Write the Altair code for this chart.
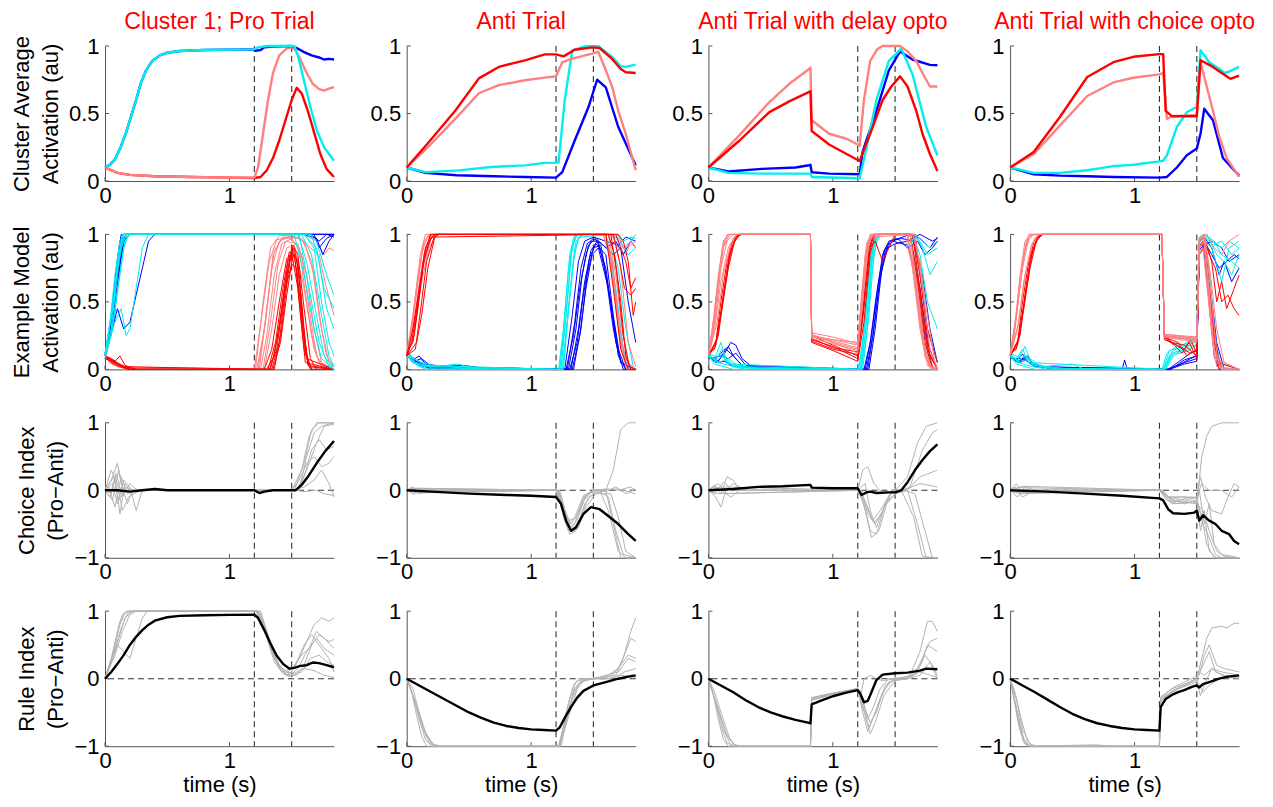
import altair as alt
import pandas as pd

FONT = "Liberation Sans"
T_END = 1.84
EVENTS = [1.2, 1.5]
X_TICKS = [0, 1]
Y_TICKS_ACT = [0, 0.5, 1]
Y_TICKS_IDX = [-1, 0, 1]
COL_TITLES = ["Cluster 1; Pro Trial", "Anti Trial", "Anti Trial with delay opto", "Anti Trial with choice opto"]
ROW_TITLES = [["Cluster Average", "Activation (au)"], ["Example Model", "Activation (au)"],
              ["Choice Index", "(Pro\u2212Anti)"], ["Rule Index", "(Pro\u2212Anti)"]]
COLORS = {"blue": "#0000ff", "cyan": "#00eeee", "red": "#ff0000", "salmon": "#ff8080",
          "gray": "#b3b3b3", "black": "#000000"}

# ---------------- Row 1: cluster average activation ----------------
R1C1_BLUE = [(0,.1),(.04,.12),(.08,.16),(.13,.26),(.17,.36),(.21,.48),(.25,.6),(.29,.73),(.33,.82),(.38,.89),(.44,.93),(.5,.95),(.6,.963),(.8,.97),(1.19,.975),(1.21,.965),(1.25,.97),(1.28,.99),(1.35,.995),(1.5,1.0),(1.54,.985),(1.6,.955),(1.66,.93),(1.72,.915),(1.76,.9),(1.8,.905),(1.84,.9)]
R1C1_CYAN = [(0,.1),(.04,.12),(.08,.16),(.13,.26),(.17,.36),(.21,.48),(.25,.6),(.29,.73),(.33,.82),(.38,.89),(.44,.93),(.5,.95),(.6,.963),(.8,.97),(1.19,.975),(1.23,.99),(1.3,1.0),(1.52,1.0),(1.55,.93),(1.6,.74),(1.65,.55),(1.7,.38),(1.76,.25),(1.84,.15)]
R1C1_SAL = [(0,.1),(.05,.08),(.1,.06),(.2,.045),(.4,.035),(.7,.03),(1.0,.025),(1.2,.025),(1.23,.1),(1.27,.35),(1.31,.6),(1.35,.8),(1.4,.93),(1.46,.98),(1.5,.99),(1.53,.97),(1.57,.9),(1.62,.8),(1.67,.72),(1.72,.68),(1.76,.67),(1.8,.685),(1.84,.695)]
R1C1_RED = [(0,.1),(.05,.08),(.1,.06),(.2,.045),(.4,.035),(.7,.03),(1.0,.025),(1.2,.022),(1.25,.03),(1.3,.08),(1.35,.17),(1.4,.3),(1.45,.45),(1.5,.6),(1.54,.69),(1.58,.65),(1.63,.52),(1.68,.36),(1.73,.2),(1.78,.09),(1.84,.03)]

R1C2_RED = [(0,.1),(.17,.28),(.39,.52),(.58,.76),(.74,.845),(.95,.894),(1.11,.938),(1.2,.938),(1.26,.923),(1.35,.972),(1.49,.99),(1.55,.985),(1.65,.904),(1.72,.83),(1.76,.806),(1.84,.8)]
R1C2_SAL = [(0,.1),(.17,.25),(.39,.46),(.58,.65),(.74,.71),(.95,.746),(1.11,.766),(1.2,.776),(1.25,.88),(1.33,.906),(1.49,.943),(1.54,.956),(1.6,.82),(1.65,.7),(1.7,.52),(1.76,.35),(1.84,.08)]
R1C2_CYAN = [(0,.1),(.15,.066),(.42,.079),(.68,.104),(.95,.116),(1.11,.134),(1.22,.136),(1.27,.6),(1.33,.967),(1.44,.998),(1.54,.998),(1.65,.919),(1.72,.85),(1.76,.845),(1.84,.862)]
R1C2_BLUE = [(0,.1),(.15,.06),(.4,.043),(.7,.035),(.95,.03),(1.2,.025),(1.25,.066),(1.35,.3),(1.46,.546),(1.53,.75),(1.6,.694),(1.7,.4),(1.84,.116)]

R1C3_SAL = [(0,.1),(.25,.34),(.49,.585),(.65,.72),(.81,.83),(.82,.84),(.83,.45),(.97,.35),(1.11,.313),(1.2,.27),(1.215,.26),(1.25,.6),(1.3,.89),(1.36,.98),(1.4,1.0),(1.54,1.0),(1.6,.96),(1.67,.89),(1.72,.8),(1.78,.7),(1.84,.7)]
R1C3_RED = [(0,.1),(.25,.3),(.49,.51),(.65,.59),(.81,.66),(.82,.665),(.83,.37),(.97,.27),(1.11,.2),(1.215,.148),(1.3,.35),(1.4,.6),(1.47,.7),(1.54,.775),(1.6,.7),(1.67,.52),(1.72,.35),(1.78,.2),(1.84,.074)]
R1C3_BLUE = [(0,.1),(.16,.07),(.43,.09),(.7,.1),(.81,.117),(.82,.12),(.83,.065),(.97,.055),(1.215,.05),(1.24,.22),(1.35,.52),(1.45,.82),(1.54,.96),(1.64,.9),(1.78,.86),(1.84,.857)]
R1C3_CYAN = [(0,.1),(.16,.06),(.43,.055),(.82,.055),(.83,.03),(1.215,.02),(1.255,.18),(1.35,.6),(1.45,.89),(1.55,.98),(1.64,.79),(1.75,.4),(1.84,.19)]

R1C4_RED = [(0,.1),(.19,.215),(.4,.474),(.62,.77),(.83,.88),(.99,.92),(1.2,.94),(1.23,.94),(1.25,.52),(1.3,.48),(1.5,.48),(1.53,.894),(1.63,.845),(1.7,.8),(1.77,.757),(1.84,.78)]
R1C4_SAL = [(0,.1),(.19,.2),(.4,.41),(.62,.63),(.83,.73),(.99,.765),(1.2,.79),(1.23,.8),(1.26,.46),(1.3,.48),(1.5,.49),(1.53,.88),(1.58,.7),(1.63,.52),(1.68,.33),(1.74,.17),(1.84,.03)]
R1C4_CYAN = [(0,.1),(.19,.06),(.4,.06),(.62,.08),(.83,.11),(.99,.12),(1.2,.145),(1.23,.15),(1.26,.19),(1.34,.4),(1.42,.51),(1.5,.548),(1.53,.968),(1.6,.88),(1.68,.832),(1.72,.8),(1.76,.81),(1.84,.845)]
R1C4_BLUE = [(0,.1),(.19,.05),(.4,.04),(.62,.035),(.83,.03),(1.2,.025),(1.26,.03),(1.34,.1),(1.42,.19),(1.5,.24),(1.53,.35),(1.56,.535),(1.63,.45),(1.71,.17),(1.84,.04)]

# ---------------- Row 2: example model activation (single trials) ----------------
R2C1_BLUE = [
 [(0,.1),(.04,.3),(.08,.6),(.12,.9),(.15,1),(1.84,1)],
 [(0,.1),(.05,.35),(.1,.7),(.14,.95),(.17,1),(1.6,1),(1.7,.97),(1.75,.85),(1.8,.95),(1.84,1)],
 [(0,.08),(.06,.3),(.1,.45),(.15,.3),(.2,.35),(.25,.55),(.3,.75),(.35,.95),(.4,1),(1.84,1)],
 [(0,.1),(.06,.45),(.1,.8),(.13,1),(1.65,1),(1.72,.95),(1.78,1),(1.84,.98)],
 [(0,.12),(.05,.3),(.09,.55),(.13,.85),(.17,1),(1.84,1)],
 [(0,.1),(.05,.4),(.09,.75),(.12,.95),(.15,1),(1.68,1),(1.72,.9),(1.78,.97),(1.84,1)],
 [(0,.1),(.07,.35),(.11,.7),(.15,.95),(.2,1),(1.84,1)]]
R2C1_CYAN = [
 [(0,.1),(.05,.4),(.1,.75),(.14,.95),(.18,1),(1.55,1),(1.62,.8),(1.7,.4),(1.76,.1),(1.84,0)],
 [(0,.08),(.06,.3),(.12,.7),(.16,.95),(.2,1),(1.58,1),(1.66,.85),(1.74,.4),(1.8,.1),(1.84,.02)],
 [(0,.1),(.08,.35),(.13,.45),(.17,.25),(.2,.3),(.25,.6),(.3,.9),(.35,1),(1.6,1),(1.7,.9),(1.76,.6),(1.84,.45)],
 [(0,.12),(.04,.35),(.08,.7),(.12,.95),(.15,1),(1.52,1),(1.6,.7),(1.68,.3),(1.74,.08),(1.84,0)],
 [(0,.1),(.05,.25),(.1,.6),(.15,.9),(.19,1),(1.62,1),(1.7,.95),(1.78,.7),(1.84,.55)],
 [(0,.1),(.07,.5),(.11,.85),(.15,1),(1.56,1),(1.64,.6),(1.72,.2),(1.8,.02),(1.84,0)],
 [(0,.1),(.06,.45),(.1,.8),(.14,1),(1.6,1),(1.68,.9),(1.74,.5),(1.8,.2),(1.84,.1)],
 [(0,.11),(.05,.3),(.09,.65),(.13,.9),(.17,1),(1.66,1),(1.72,.8),(1.78,.45),(1.84,.3)]]
R2C1_SAL = [
 [(0,.1),(.05,.04),(.1,.02),(.2,0),(1.22,0),(1.28,.3),(1.34,.75),(1.4,.95),(1.48,.98),(1.56,.9),(1.62,.5),(1.68,.15),(1.74,.02),(1.84,0)],
 [(0,.08),(.06,.06),(.12,.02),(.3,0),(1.25,0),(1.3,.25),(1.36,.7),(1.42,.93),(1.5,.97),(1.58,.85),(1.64,.45),(1.7,.1),(1.78,0),(1.84,0)],
 [(0,.1),(.08,.05),(.15,.01),(1.2,0),(1.26,.4),(1.32,.8),(1.38,.96),(1.5,.99),(1.6,.95),(1.68,.7),(1.74,.3),(1.8,.05),(1.84,.02)],
 [(0,.1),(.1,.03),(.2,0),(1.28,0),(1.34,.3),(1.4,.7),(1.46,.9),(1.52,.92),(1.6,.6),(1.66,.25),(1.72,.05),(1.84,0)],
 [(0,.1),(.06,.08),(.12,.03),(.25,0),(1.23,0),(1.29,.35),(1.35,.85),(1.42,.97),(1.55,.98),(1.65,.9),(1.72,.85),(1.78,.6),(1.84,.4)],
 [(0,.1),(.07,.05),(.14,.01),(1.24,0),(1.3,.45),(1.36,.88),(1.43,.98),(1.58,.97),(1.66,.8),(1.72,.4),(1.78,.1),(1.84,.02)],
 [(0,.09),(.05,.07),(.1,.03),(.2,0),(1.27,0),(1.33,.35),(1.39,.78),(1.45,.95),(1.55,.93),(1.62,.7),(1.68,.3),(1.74,.05),(1.84,0)],
 [(0,.1),(.04,.06),(.1,.02),(1.21,0),(1.27,.5),(1.33,.9),(1.4,.99),(1.6,1),(1.7,.95),(1.76,.85),(1.8,.9),(1.84,.88)]]
R2C1_RED = [
 [(0,.1),(.05,.05),(.12,.02),(.2,0),(1.3,0),(1.36,.1),(1.42,.45),(1.47,.8),(1.5,.88),(1.53,.8),(1.57,.4),(1.61,.05),(1.84,0)],
 [(0,.1),(.1,.04),(.2,0),(1.32,0),(1.38,.15),(1.44,.55),(1.49,.85),(1.52,.9),(1.56,.7),(1.6,.25),(1.64,.02),(1.84,0)],
 [(0,.08),(.08,.05),(.18,0),(1.34,0),(1.4,.2),(1.45,.6),(1.5,.78),(1.54,.75),(1.58,.4),(1.62,.08),(1.84,0)],
 [(0,.1),(.12,.03),(.25,0),(1.28,0),(1.34,.15),(1.4,.5),(1.46,.82),(1.5,.86),(1.55,.6),(1.6,.15),(1.66,0),(1.84,0)],
 [(0,.1),(.1,.05),(.2,0),(1.36,0),(1.42,.3),(1.47,.7),(1.51,.92),(1.55,.85),(1.6,.45),(1.65,.08),(1.7,0),(1.84,0)],
 [(0,.1),(.08,.06),(.12,.1),(.16,.03),(.25,0),(1.33,0),(1.39,.25),(1.45,.65),(1.5,.9),(1.54,.82),(1.58,.5),(1.62,.1),(1.66,0),(1.84,0)],
 [(0,.1),(.06,.07),(.13,.02),(1.35,0),(1.41,.2),(1.46,.55),(1.51,.85),(1.55,.8),(1.59,.35),(1.63,.03),(1.84,0)],
 [(0,.08),(.1,.04),(.2,0),(1.31,0),(1.37,.2),(1.43,.6),(1.48,.87),(1.52,.85),(1.57,.5),(1.61,.12),(1.65,0),(1.84,0)]]

R2C2_SAL = [
 [(0,.1),(.04,.3),(.08,.6),(.12,.85),(.16,.97),(.2,1),(1.6,1),(1.65,.8),(1.7,.4),(1.75,.1),(1.8,0),(1.84,0)],
 [(0,.12),(.05,.4),(.1,.75),(.14,.95),(.18,1),(1.62,1),(1.68,.7),(1.73,.3),(1.78,.05),(1.84,0)],
 [(0,.1),(.06,.35),(.11,.7),(.16,.92),(.22,1),(1.64,1),(1.7,.9),(1.76,.85),(1.8,.95),(1.84,.9)],
 [(0,.1),(.03,.25),(.07,.55),(.11,.85),(.15,1),(1.58,1),(1.63,.85),(1.68,.5),(1.72,.15),(1.77,0),(1.84,0)],
 [(0,.1),(.06,.3),(.12,.65),(.18,.9),(.24,1),(1.66,1),(1.72,.75),(1.78,.2),(1.84,.02)],
 [(0,.11),(.05,.35),(.09,.65),(.13,.9),(.18,1),(1.6,1),(1.66,.75),(1.71,.25),(1.76,.02),(1.84,0)],
 [(0,.1),(.07,.4),(.13,.8),(.19,.97),(.25,1),(1.7,1),(1.74,.9),(1.8,.92),(1.84,.95)]]
R2C2_RED = [
 [(0,.12),(.05,.2),(.09,.45),(.13,.75),(.18,.95),(.22,1),(1.62,1),(1.67,.85),(1.72,.5),(1.76,.1),(1.8,0),(1.84,0)],
 [(0,.1),(.07,.15),(.12,.5),(.16,.8),(.22,.98),(.26,1),(1.68,1),(1.72,.9),(1.76,.8),(1.8,.6),(1.84,.68)],
 [(0,.1),(.05,.3),(.1,.6),(.15,.9),(.2,1),(1.6,1),(1.66,.6),(1.72,.15),(1.78,0),(1.84,0)],
 [(0,.1),(.08,.2),(.12,.4),(.17,.75),(.23,1),(1.7,1),(1.74,.95),(1.78,.8),(1.82,.4),(1.84,.5)],
 [(0,.1),(.06,.25),(.1,.55),(.14,.85),(.19,1),(1.64,1),(1.69,.7),(1.74,.25),(1.79,.02),(1.84,0)],
 [(0,.1),(.04,.2),(.09,.5),(.14,.82),(.2,.98),(1.66,1),(1.71,.8),(1.75,.6),(1.8,.55),(1.84,.6)]]
R2C2_CYAN = [
 [(0,.12),(.03,.08),(.08,.04),(.15,.02),(.3,.03),(.5,0),(1.22,0),(1.26,.3),(1.3,.75),(1.34,.97),(1.38,1),(1.58,1),(1.64,.8),(1.7,.35),(1.76,.05),(1.84,0)],
 [(0,.1),(.04,.06),(.1,.02),(.2,0),(1.23,0),(1.28,.4),(1.32,.85),(1.36,1),(1.64,1),(1.7,.97),(1.75,.9),(1.8,.95),(1.84,1)],
 [(0,.15),(.05,.08),(.12,.05),(.25,.02),(.4,.04),(.6,0),(1.24,0),(1.29,.5),(1.33,.9),(1.37,1),(1.6,1),(1.68,.6),(1.74,.15),(1.8,0),(1.84,0)],
 [(0,.1),(.06,.05),(.15,0),(1.25,0),(1.3,.45),(1.35,.9),(1.4,1),(1.66,1),(1.72,.92),(1.78,.85),(1.84,.9)],
 [(0,.1),(.08,.07),(.2,.01),(1.26,0),(1.31,.55),(1.36,.95),(1.42,1),(1.62,1),(1.7,.75),(1.76,.3),(1.82,.02),(1.84,0)],
 [(0,.1),(.05,.06),(.12,.03),(1.23,0),(1.27,.4),(1.31,.85),(1.35,1),(1.6,1),(1.66,.7),(1.72,.2),(1.78,0),(1.84,0)],
 [(0,.13),(.07,.05),(.2,.02),(1.25,0),(1.29,.35),(1.34,.8),(1.38,.98),(1.68,1),(1.74,.95),(1.8,.98),(1.84,.97)]]
R2C2_BLUE = [
 [(0,.1),(.05,.07),(.1,.1),(.15,.04),(.3,.02),(1.28,0),(1.34,.25),(1.39,.6),(1.44,.85),(1.48,.95),(1.54,.95),(1.6,.7),(1.66,.3),(1.72,.05),(1.84,0)],
 [(0,.1),(.08,.05),(.2,0),(1.3,0),(1.36,.3),(1.41,.7),(1.46,.92),(1.52,.97),(1.6,.9),(1.68,.95),(1.74,.85),(1.8,.95),(1.84,.9)],
 [(0,.12),(.06,.08),(.1,.05),(.25,.02),(.45,.03),(.7,0),(1.32,0),(1.38,.3),(1.43,.65),(1.48,.88),(1.53,.95),(1.6,.75),(1.68,.2),(1.74,0),(1.84,0)],
 [(0,.1),(.1,.03),(.3,0),(1.29,0),(1.35,.35),(1.4,.75),(1.45,.93),(1.5,.97),(1.58,.92),(1.66,.85),(1.72,.9),(1.78,.5),(1.84,.2)],
 [(0,.1),(.07,.06),(.2,.01),(1.33,0),(1.39,.25),(1.44,.6),(1.49,.85),(1.54,.9),(1.62,.6),(1.7,.15),(1.76,0),(1.84,0)],
 [(0,.1),(.06,.06),(.12,.08),(.2,.02),(1.31,0),(1.37,.2),(1.42,.55),(1.47,.83),(1.52,.93),(1.6,.85),(1.66,.4),(1.72,.05),(1.84,0)],
 [(0,.11),(.05,.05),(.15,.02),(1.34,0),(1.4,.3),(1.45,.7),(1.5,.9),(1.56,.92),(1.64,.5),(1.7,.1),(1.76,0),(1.84,0)],
 [(0,.1),(.08,.04),(.3,.01),(1.27,0),(1.33,.4),(1.38,.8),(1.43,.95),(1.5,.98),(1.6,.95),(1.7,.92),(1.76,.98),(1.84,.95)]]

R2C3_SAL = [
 [(0,.1),(.04,.35),(.08,.7),(.12,.95),(.16,1),(.82,1),(.83,.25),(1.0,.22),(1.2,.18),(1.23,.5),(1.27,.9),(1.3,1),(1.6,1),(1.66,.7),(1.72,.25),(1.78,.02),(1.84,0)],
 [(0,.1),(.06,.4),(.1,.75),(.15,.95),(.2,1),(.82,1),(.83,.25),(1.0,.2),(1.2,.15),(1.24,.55),(1.28,.92),(1.32,1),(1.62,1),(1.68,.6),(1.74,.15),(1.8,0),(1.84,0)],
 [(0,.12),(.05,.3),(.1,.65),(.16,.9),(.22,1),(.82,1),(.83,.24),(1.0,.22),(1.2,.2),(1.22,.4),(1.26,.85),(1.3,.98),(1.64,1),(1.7,.8),(1.76,.4),(1.82,.05),(1.84,.02)],
 [(0,.1),(.03,.3),(.07,.6),(.11,.88),(.15,1),(.82,1),(.83,.26),(1.0,.2),(1.2,.12),(1.25,.6),(1.29,.95),(1.33,1),(1.58,1),(1.64,.75),(1.7,.3),(1.76,.03),(1.84,0)],
 [(0,.1),(.05,.4),(.09,.75),(.13,.96),(.18,1),(.82,1),(.83,.27),(1.0,.24),(1.2,.19),(1.23,.55),(1.27,.93),(1.31,1),(1.62,1),(1.68,.55),(1.74,.1),(1.8,0),(1.84,0)],
 [(0,.1),(.07,.35),(.12,.7),(.18,.93),(.23,1),(.82,1),(.83,.25),(1.0,.21),(1.2,.16),(1.24,.5),(1.28,.9),(1.32,1),(1.66,1),(1.72,.6),(1.78,.15),(1.84,0)],
 [(0,.11),(.04,.3),(.08,.62),(.12,.9),(.17,1),(.82,1),(.83,.23),(1.0,.19),(1.2,.14),(1.25,.6),(1.29,.95),(1.33,1),(1.6,1),(1.66,.65),(1.72,.2),(1.78,0),(1.84,0)]]
R2C3_RED = [
 [(0,.1),(.06,.2),(.1,.5),(.15,.8),(.2,.97),(.25,1),(.82,1),(.83,.25),(1.0,.18),(1.2,.1),(1.24,.4),(1.29,.85),(1.33,1),(1.62,1),(1.68,.65),(1.74,.2),(1.8,0),(1.84,0)],
 [(0,.1),(.08,.25),(.13,.6),(.18,.88),(.24,1),(.82,1),(.83,.22),(1.0,.17),(1.2,.08),(1.25,.45),(1.3,.9),(1.34,.95),(1.4,.8),(1.45,.9),(1.5,1),(1.64,1),(1.7,.7),(1.76,.3),(1.84,.05)],
 [(0,.12),(.05,.15),(.11,.45),(.16,.75),(.21,.95),(.26,1),(.82,1),(.83,.23),(1.0,.16),(1.2,.13),(1.23,.35),(1.28,.8),(1.32,1),(1.66,1),(1.72,.55),(1.78,.1),(1.84,0)],
 [(0,.1),(.07,.22),(.12,.55),(.17,.85),(.22,.98),(.27,1),(.82,1),(.83,.2),(1.0,.14),(1.2,.06),(1.25,.35),(1.3,.85),(1.34,1),(1.64,1),(1.7,.6),(1.76,.15),(1.84,0)],
 [(0,.1),(.06,.18),(.11,.48),(.16,.8),(.21,.96),(.25,1),(.82,1),(.83,.21),(1.0,.15),(1.2,.11),(1.24,.45),(1.29,.9),(1.33,1),(1.62,1),(1.68,.7),(1.74,.25),(1.8,.02),(1.84,0)]]
R2C3_CYAN = [
 [(0,.1),(.05,.08),(.1,.2),(.15,.05),(.3,.02),(.5,0),(1.2,0),(1.24,.2),(1.28,.6),(1.32,.9),(1.36,1),(1.62,1),(1.7,.8),(1.76,.3),(1.84,.05)],
 [(0,.12),(.06,.06),(.12,.1),(.2,.03),(.4,0),(1.22,0),(1.26,.35),(1.3,.8),(1.34,.98),(1.38,1),(1.66,1),(1.72,.9),(1.78,.7),(1.84,.8)],
 [(0,.1),(.08,.05),(.16,.08),(.25,.02),(1.23,0),(1.27,.25),(1.31,.7),(1.35,.95),(1.4,1),(1.6,1),(1.68,.5),(1.74,.1),(1.8,0),(1.84,0)],
 [(0,.1),(.05,.04),(.2,0),(1.24,0),(1.29,.4),(1.33,.85),(1.37,1),(1.64,1),(1.7,.95),(1.76,.85),(1.84,.9)],
 [(0,.11),(.06,.07),(.1,.12),(.14,.06),(.25,.01),(1.21,0),(1.25,.3),(1.29,.75),(1.33,.95),(1.37,1),(1.64,1),(1.7,.85),(1.76,.5),(1.84,.3)],
 [(0,.1),(.04,.06),(.12,.04),(.3,0),(1.22,0),(1.26,.25),(1.3,.7),(1.34,.96),(1.38,1),(1.62,1),(1.68,.7),(1.74,.2),(1.8,0),(1.84,0)],
 [(0,.12),(.07,.09),(.11,.15),(.16,.04),(1.23,0),(1.28,.45),(1.32,.88),(1.36,1),(1.66,1),(1.72,.95),(1.78,.9),(1.84,.95)]]
R2C3_BLUE = [
 [(0,.1),(.06,.05),(.12,.1),(.18,.2),(.22,.18),(.27,.08),(.35,.02),(.5,0),(1.25,0),(1.3,.2),(1.35,.55),(1.4,.85),(1.45,.95),(1.52,.97),(1.6,.9),(1.68,.95),(1.74,.85),(1.8,.9),(1.84,.95)],
 [(0,.1),(.08,.06),(.14,.15),(.2,.1),(.28,.02),(1.27,0),(1.32,.25),(1.37,.6),(1.42,.88),(1.48,.95),(1.6,.92),(1.7,.6),(1.76,.2),(1.84,0)],
 [(0,.08),(.1,.1),(.16,.08),(.22,.12),(.3,.03),(1.28,0),(1.33,.3),(1.38,.7),(1.44,.92),(1.5,.96),(1.62,1),(1.7,.97),(1.78,.9),(1.84,.98)],
 [(0,.1),(.05,.07),(.1,.12),(.16,.17),(.2,.1),(.28,.02),(1.26,0),(1.31,.25),(1.36,.6),(1.41,.88),(1.46,.95),(1.55,.97),(1.65,.95),(1.72,.7),(1.78,.3),(1.84,.05)],
 [(0,.1),(.07,.05),(.13,.06),(.2,.02),(1.29,0),(1.34,.3),(1.39,.72),(1.44,.9),(1.5,.93),(1.6,.95),(1.7,1),(1.8,.95),(1.84,.97)]]

R2C4_SAL = [
 [(0,.1),(.04,.35),(.08,.7),(.12,.95),(.16,1),(1.22,1),(1.24,.25),(1.5,.23),(1.52,.95),(1.55,1),(1.58,.7),(1.62,.25),(1.66,.02),(1.84,0)],
 [(0,.12),(.05,.4),(.1,.75),(.15,.97),(.2,1),(1.22,1),(1.24,.26),(1.5,.24),(1.52,.9),(1.56,.95),(1.6,.6),(1.64,.15),(1.7,0),(1.84,0)],
 [(0,.1),(.06,.3),(.11,.65),(.17,.92),(.22,1),(1.22,1),(1.24,.25),(1.5,.22),(1.52,.95),(1.58,1),(1.64,.9),(1.7,.85),(1.76,.95),(1.84,1)],
 [(0,.1),(.03,.25),(.07,.55),(.11,.85),(.15,1),(1.22,1),(1.24,.24),(1.5,.2),(1.52,.85),(1.55,.9),(1.6,.45),(1.65,.08),(1.84,0)],
 [(0,.1),(.05,.38),(.09,.72),(.13,.95),(.18,1),(1.22,1),(1.24,.26),(1.5,.23),(1.52,.97),(1.56,.98),(1.6,.55),(1.64,.1),(1.7,0),(1.84,0)],
 [(0,.11),(.07,.35),(.12,.7),(.18,.93),(.23,1),(1.22,1),(1.24,.25),(1.5,.21),(1.52,.92),(1.57,.96),(1.62,.5),(1.66,.12),(1.72,0),(1.84,0)],
 [(0,.1),(.04,.3),(.08,.62),(.12,.9),(.17,1),(1.22,1),(1.24,.24),(1.5,.22),(1.52,.96),(1.56,1),(1.61,.7),(1.66,.3),(1.72,.05),(1.84,0)]]
R2C4_RED = [
 [(0,.1),(.06,.2),(.1,.5),(.15,.8),(.2,.97),(.25,1),(1.22,1),(1.24,.25),(1.3,.2),(1.4,.18),(1.5,.1),(1.52,.9),(1.56,.95),(1.6,.6),(1.64,.2),(1.68,0),(1.84,0)],
 [(0,.1),(.08,.25),(.13,.6),(.18,.88),(.24,1),(1.22,1),(1.24,.22),(1.3,.2),(1.4,.15),(1.45,.22),(1.5,.12),(1.52,.95),(1.56,.98),(1.62,.8),(1.66,.5),(1.7,.65),(1.74,.45),(1.8,.6),(1.84,.7)],
 [(0,.12),(.05,.15),(.11,.45),(.16,.75),(.21,.95),(.26,1),(1.22,1),(1.24,.24),(1.35,.2),(1.42,.1),(1.5,.15),(1.52,.9),(1.57,.95),(1.62,.4),(1.67,.05),(1.84,0)],
 [(0,.1),(.07,.22),(.12,.55),(.17,.85),(.22,.98),(.27,1),(1.22,1),(1.24,.23),(1.32,.18),(1.38,.12),(1.44,.2),(1.5,.08),(1.52,.85),(1.56,.9),(1.61,.55),(1.66,.15),(1.7,0),(1.84,0)],
 [(0,.1),(.06,.18),(.11,.48),(.16,.8),(.21,.96),(.25,1),(1.22,1),(1.24,.24),(1.35,.17),(1.45,.12),(1.5,.14),(1.52,.92),(1.56,.96),(1.6,.85),(1.65,.75),(1.7,.5),(1.75,.55),(1.8,.45),(1.84,.4)]]
R2C4_CYAN = [
 [(0,.1),(.05,.08),(.1,.15),(.15,.05),(.3,.02),(.5,0),(1.22,0),(1.26,.12),(1.35,.18),(1.5,.2),(1.52,.95),(1.56,1),(1.62,.95),(1.7,.9),(1.76,.95),(1.84,.9)],
 [(0,.12),(.06,.06),(.12,.1),(.2,.03),(.4,0),(1.23,0),(1.28,.14),(1.4,.17),(1.5,.18),(1.52,.9),(1.56,.97),(1.6,.7),(1.65,.2),(1.7,0),(1.84,0)],
 [(0,.1),(.08,.05),(.16,.08),(.25,.02),(.5,.04),(.6,0),(1.24,0),(1.3,.1),(1.4,.15),(1.5,.22),(1.52,.97),(1.58,1),(1.66,.85),(1.72,.8),(1.78,.7),(1.84,.85)],
 [(0,.1),(.05,.04),(.2,0),(1.24,0),(1.3,.12),(1.5,.17),(1.52,.92),(1.56,.95),(1.62,.9),(1.7,.65),(1.76,.9),(1.84,.95)],
 [(0,.11),(.06,.07),(.1,.12),(.16,.04),(.3,.01),(1.23,0),(1.28,.1),(1.38,.16),(1.5,.24),(1.52,.98),(1.56,1),(1.64,.95),(1.7,.85),(1.78,.8),(1.84,.75)],
 [(0,.1),(.04,.06),(.14,.03),(.3,0),(1.24,0),(1.3,.13),(1.42,.2),(1.5,.25),(1.52,.9),(1.56,.95),(1.6,.75),(1.64,.3),(1.68,.05),(1.84,0)],
 [(0,.12),(.07,.09),(.12,.17),(.17,.05),(1.25,0),(1.32,.11),(1.44,.14),(1.5,.19),(1.52,.94),(1.57,.98),(1.63,.92),(1.7,.95),(1.78,.85),(1.84,.9)]]
R2C4_BLUE = [
 [(0,.1),(.06,.05),(.12,.1),(.2,.03),(.35,.01),(.9,0),(.92,.07),(.94,0),(1.26,0),(1.35,.03),(1.45,.08),(1.5,.1),(1.52,.95),(1.56,.98),(1.62,.9),(1.68,.7),(1.72,.8),(1.78,.65),(1.84,.75)],
 [(0,.1),(.08,.06),(.14,.1),(.2,.02),(1.27,0),(1.4,.05),(1.5,.08),(1.52,.9),(1.55,.95),(1.6,.5),(1.64,.1),(1.68,0),(1.84,0)],
 [(0,.08),(.1,.08),(.16,.05),(.3,.01),(1.28,0),(1.4,.04),(1.5,.06),(1.52,.85),(1.56,.92),(1.62,.95),(1.7,.9),(1.76,.8),(1.84,.85)],
 [(0,.1),(.05,.07),(.1,.11),(.16,.04),(.3,.01),(1.27,0),(1.36,.06),(1.45,.12),(1.5,.14),(1.52,.9),(1.56,.95),(1.62,.85),(1.68,.75),(1.74,.8),(1.8,.85),(1.84,.82)],
 [(0,.1),(.07,.05),(.13,.07),(.2,.02),(1.29,0),(1.4,.07),(1.5,.1),(1.52,.88),(1.56,.93),(1.61,.6),(1.66,.2),(1.72,0),(1.84,0)]]

# ---------------- Row 3: choice index ----------------
R3C1_MEAN = [(0,0),(.1,0),(.2,-.02),(.3,0),(.4,.02),(.5,0),(.8,0),(1.2,0),(1.24,-.04),(1.28,-.02),(1.35,0),(1.5,0),(1.53,0),(1.58,.08),(1.63,.2),(1.7,.4),(1.77,.58),(1.84,.73)]
R3C1_GRAY = [
 [(0,0),(.05,.15),(.1,.4),(.13,.1),(.18,-.2),(.22,0),(.3,0),(1.5,0),(1.58,.3),(1.64,.8),(1.7,1),(1.84,1)],
 [(0,0),(.04,-.1),(.08,.2),(.12,-.35),(.16,.1),(.2,0),(1.52,0),(1.6,.4),(1.66,.9),(1.72,1),(1.84,1)],
 [(0,0),(.06,.1),(.1,-.2),(.15,.15),(.2,.05),(.25,-.3),(.3,0),(1.54,0),(1.62,.3),(1.7,.7),(1.76,.95),(1.84,.98)],
 [(0,0),(.05,-.05),(.09,.25),(.14,-.1),(.2,.1),(.26,0),(1.5,0),(1.56,.15),(1.62,.4),(1.68,.5),(1.74,.35),(1.8,.4),(1.84,.5)],
 [(0,0),(.07,.2),(.11,-.15),(.17,.05),(.22,0),(1.55,0),(1.6,.2),(1.66,.6),(1.72,.75),(1.78,.6),(1.84,.65)],
 [(0,0),(.03,.05),(.08,-.25),(.13,.2),(.18,-.05),(.24,0),(1.5,0),(1.6,.05),(1.68,.15),(1.74,.3),(1.8,.1),(1.84,-.1)],
 [(0,0),(.06,-.15),(.11,.3),(.15,0),(.3,0),(1.53,0),(1.6,-.02),(1.7,0),(1.76,-.05),(1.84,-.08)],
 [(0,0),(.05,.3),(.1,.1),(.14,-.3),(.19,-.1),(.28,0),(1.56,0),(1.62,.5),(1.68,.85),(1.74,.95),(1.84,1)]]

R3C2_MEAN = [(0,0),(.2,-.02),(.5,-.05),(.8,-.07),(1.0,-.08),(1.2,-.1),(1.24,-.2),(1.28,-.45),(1.32,-.6),(1.36,-.55),(1.42,-.35),(1.48,-.25),(1.55,-.28),(1.62,-.38),(1.7,-.5),(1.78,-.65),(1.84,-.75)]
R3C2_GRAY = [
 [(0,0),(.05,.05),(.1,-.05),(.2,0),(1.2,0),(1.25,-.3),(1.3,-.6),(1.35,-.5),(1.42,-.1),(1.5,0),(1.6,0),(1.66,.3),(1.72,.9),(1.78,1),(1.84,1)],
 [(0,0),(.06,-.06),(.12,.03),(.2,0),(1.21,0),(1.26,-.4),(1.31,-.65),(1.36,-.6),(1.43,-.2),(1.5,-.05),(1.6,0),(1.66,-.5),(1.72,-1),(1.84,-1)],
 [(0,0),(.04,.04),(.1,-.03),(1.22,0),(1.27,-.3),(1.32,-.5),(1.38,-.35),(1.45,-.05),(1.55,0),(1.62,-.3),(1.7,-.9),(1.76,-1),(1.84,-1)],
 [(0,0),(.08,-.04),(1.2,0),(1.25,-.2),(1.3,-.45),(1.36,-.4),(1.42,-.15),(1.5,0),(1.6,.02),(1.7,0),(1.8,.05),(1.84,0)],
 [(0,0),(.05,.02),(1.23,0),(1.28,-.35),(1.33,-.62),(1.38,-.55),(1.44,-.25),(1.52,-.05),(1.64,-.05),(1.7,-.4),(1.76,-.9),(1.84,-1)],
 [(0,0),(.1,.03),(1.21,0),(1.26,-.25),(1.31,-.55),(1.37,-.45),(1.43,-.1),(1.5,0),(1.6,-.02),(1.68,.05),(1.76,-.05),(1.84,.02)],
 [(0,0),(1.22,0),(1.27,-.3),(1.32,-.58),(1.38,-.5),(1.46,-.1),(1.55,-.02),(1.62,-.1),(1.68,-.6),(1.74,-.95),(1.84,-1)],
 [(0,0),(.06,.03),(1.2,0),(1.26,-.35),(1.3,-.5),(1.35,-.4),(1.42,-.08),(1.5,0),(1.7,.02),(1.84,-.05)]]

R3C3_MEAN = [(0,0),(.2,.02),(.4,.05),(.6,.06),(.82,.08),(.83,.04),(1.0,.03),(1.2,.03),(1.23,-.07),(1.27,-.03),(1.3,-.02),(1.35,-.04),(1.45,-.03),(1.5,-.03),(1.55,0),(1.6,.12),(1.66,.3),(1.72,.45),(1.78,.58),(1.84,.68)]
R3C3_GRAY = [
 [(0,0),(.05,.08),(.1,-.05),(.15,.2),(.2,.15),(.25,0),(1.2,0),(1.25,-.2),(1.3,-.6),(1.35,-.65),(1.42,-.2),(1.5,-.05),(1.6,0),(1.68,-.5),(1.75,-1),(1.84,-1)],
 [(0,0),(.06,-.1),(.1,-.25),(.14,0),(.2,.1),(.3,0),(1.2,0),(1.24,.3),(1.28,.35),(1.33,.1),(1.4,-.05),(1.5,0),(1.6,.2),(1.68,.7),(1.75,.95),(1.84,1)],
 [(0,0),(.04,.05),(.1,0),(.18,-.1),(.25,0),(1.21,0),(1.26,-.3),(1.31,-.7),(1.37,-.6),(1.44,-.15),(1.55,0),(1.65,-.4),(1.72,-.98),(1.84,-1)],
 [(0,0),(.08,.1),(.15,-.05),(1.22,0),(1.27,-.2),(1.32,-.45),(1.38,-.3),(1.46,-.05),(1.6,0),(1.7,.2),(1.84,.3)],
 [(0,0),(.05,-.05),(.12,.12),(.2,0),(1.2,0),(1.26,.1),(1.3,-.3),(1.35,-.55),(1.41,-.25),(1.5,-.05),(1.62,.05),(1.72,.6),(1.8,.85),(1.84,.9)],
 [(0,0),(.1,.05),(1.23,0),(1.28,-.35),(1.34,-.5),(1.4,-.3),(1.48,0),(1.6,.02),(1.7,.1),(1.84,.05)],
 [(0,0),(.07,-.05),(1.21,0),(1.27,-.25),(1.33,-.48),(1.39,-.35),(1.47,-.02),(1.58,0),(1.66,-.05),(1.74,-.6),(1.8,-1),(1.84,-1)]]

R3C4_MEAN = [(0,0),(.3,-.02),(.6,-.05),(.9,-.08),(1.2,-.12),(1.23,-.15),(1.27,-.28),(1.31,-.34),(1.4,-.35),(1.48,-.33),(1.5,-.3),(1.52,-.45),(1.55,-.37),(1.6,-.45),(1.65,-.5),(1.7,-.6),(1.76,-.65),(1.8,-.75),(1.84,-.8)]
R3C4_GRAY = [
 [(0,0),(.05,.1),(.1,-.05),(.2,0),(1.2,0),(1.26,-.15),(1.35,-.2),(1.45,-.15),(1.5,-.2),(1.54,.5),(1.58,.8),(1.62,.95),(1.7,1),(1.84,1)],
 [(0,0),(.06,-.1),(.12,.05),(.2,0),(1.22,0),(1.27,-.1),(1.4,-.15),(1.5,-.1),(1.54,.1),(1.6,0),(1.7,0),(1.78,-.1),(1.84,.05)],
 [(0,0),(.04,.05),(.1,-.1),(.2,0),(1.2,0),(1.3,-.2),(1.45,-.18),(1.5,-.15),(1.53,-.6),(1.56,-.3),(1.6,-.9),(1.66,-1),(1.84,-1)],
 [(0,0),(.08,-.05),(1.21,0),(1.28,-.12),(1.4,-.2),(1.5,-.15),(1.55,-.5),(1.6,-.7),(1.65,-.95),(1.7,-1),(1.84,-1)],
 [(0,0),(.1,.06),(1.23,0),(1.3,-.18),(1.45,-.1),(1.5,-.2),(1.52,0),(1.56,-.5),(1.6,-.2),(1.64,-.8),(1.7,-.95),(1.84,-1)],
 [(0,0),(.05,-.03),(1.2,0),(1.26,-.1),(1.4,-.1),(1.5,-.12),(1.54,-.4),(1.58,-.8),(1.64,-1),(1.84,-1)],
 [(0,0),(.07,.04),(1.22,0),(1.3,-.15),(1.5,-.2),(1.55,-.3),(1.6,-.6),(1.66,-.9),(1.72,-.98),(1.84,-1)],
 [(0,0),(1.2,0),(1.28,-.1),(1.5,-.1),(1.53,.2),(1.57,-.1),(1.62,-.3),(1.7,-.35),(1.75,-.1),(1.8,.1),(1.84,.05)]]

# ---------------- Row 4: rule index ----------------
R4C1_MEAN = [(0,0),(.05,.1),(.1,.22),(.15,.35),(.2,.5),(.25,.62),(.3,.72),(.35,.8),(.4,.86),(.5,.91),(.6,.93),(.8,.94),(1.0,.945),(1.2,.95),(1.23,.9),(1.28,.72),(1.33,.52),(1.38,.34),(1.43,.22),(1.48,.15),(1.52,.16),(1.57,.19),(1.62,.2),(1.67,.24),(1.72,.23),(1.78,.2),(1.84,.17)]
R4C1_GRAY = [
 [(0,0),(.05,.3),(.1,.7),(.14,.95),(.18,1),(1.22,1),(1.28,.75),(1.34,.4),(1.4,.15),(1.45,.05),(1.5,.1),(1.56,.3),(1.62,.55),(1.68,.8),(1.74,.9),(1.8,.85),(1.84,.9)],
 [(0,0),(.06,.35),(.12,.8),(.16,.98),(.2,1),(1.23,1),(1.29,.7),(1.35,.35),(1.42,.1),(1.48,.03),(1.55,.15),(1.62,.4),(1.7,.6),(1.76,.45),(1.84,.35)],
 [(0,0),(.04,.2),(.1,.5),(.15,.4),(.2,.3),(.25,.6),(.3,.9),(.34,1),(1.21,1),(1.27,.8),(1.33,.5),(1.4,.2),(1.46,.05),(1.54,.05),(1.6,.2),(1.66,.5),(1.72,.65),(1.8,.55),(1.84,.58)],
 [(0,0),(.07,.4),(.12,.85),(.17,1),(1.24,1),(1.3,.7),(1.36,.3),(1.43,.08),(1.5,.05),(1.58,.1),(1.65,.3),(1.72,.35),(1.78,.25),(1.84,.2)],
 [(0,0),(.05,.25),(.11,.6),(.16,.9),(.22,1),(1.22,1),(1.28,.8),(1.34,.45),(1.4,.18),(1.47,.1),(1.53,.2),(1.6,.5),(1.66,.65),(1.72,.5),(1.8,.3),(1.84,.1)],
 [(0,0),(.06,.3),(.13,.75),(.18,.97),(.23,1),(1.25,1),(1.31,.65),(1.37,.3),(1.44,.1),(1.52,.08),(1.6,.15),(1.68,.12),(1.76,.05),(1.84,.02)],
 [(0,0),(.08,.35),(.14,.7),(.2,.95),(.25,1),(1.23,1),(1.3,.6),(1.36,.25),(1.42,.1),(1.5,.15),(1.58,.35),(1.64,.45),(1.7,.7),(1.76,.6),(1.84,.45)]]

R4C2_MEAN = [(0,0),(.1,-.1),(.2,-.2),(.3,-.3),(.4,-.4),(.5,-.5),(.6,-.58),(.7,-.65),(.8,-.7),(.9,-.73),(1.0,-.75),(1.1,-.76),(1.2,-.77),(1.23,-.72),(1.27,-.58),(1.32,-.42),(1.37,-.28),(1.42,-.18),(1.5,-.1),(1.6,-.05),(1.7,0),(1.78,.03),(1.84,.05)]
R4C2_GRAY = [
 [(0,0),(.04,-.2),(.08,-.55),(.12,-.85),(.16,-1),(1.22,-1),(1.26,-.7),(1.3,-.35),(1.34,-.1),(1.38,0),(1.5,0),(1.6,.02),(1.68,.05),(1.74,.3),(1.8,.7),(1.84,.9)],
 [(0,0),(.05,-.25),(.1,-.6),(.15,-.9),(.2,-1),(1.23,-1),(1.27,-.6),(1.31,-.3),(1.36,-.05),(1.42,0),(1.55,0),(1.65,.05),(1.72,.2),(1.78,.35),(1.84,.3)],
 [(0,0),(.06,-.3),(.12,-.7),(.18,-.95),(.24,-1),(1.22,-1),(1.27,-.75),(1.32,-.45),(1.37,-.15),(1.43,-.02),(1.5,0),(1.65,0),(1.75,.1),(1.84,.15)],
 [(0,0),(.07,-.35),(.14,-.75),(.2,-.97),(.27,-1),(1.24,-1),(1.28,-.65),(1.33,-.3),(1.38,-.08),(1.45,0),(1.6,.03),(1.7,.15),(1.76,.4),(1.8,.6),(1.84,.55)],
 [(0,0),(.05,-.15),(.1,-.5),(.16,-.85),(.22,-1),(1.22,-1),(1.25,-.8),(1.3,-.45),(1.35,-.15),(1.4,-.03),(1.5,0),(1.62,0),(1.72,.05),(1.84,.02)],
 [(0,0),(.08,-.4),(.15,-.8),(.22,-.98),(.3,-1),(1.23,-1),(1.29,-.55),(1.34,-.2),(1.4,-.05),(1.5,0),(1.7,.1),(1.78,.3),(1.84,.25)]]

R4C3_MEAN = [(0,0),(.1,-.1),(.2,-.2),(.3,-.32),(.4,-.42),(.5,-.5),(.6,-.56),(.7,-.61),(.8,-.65),(.82,-.66),(.83,-.38),(.9,-.33),(1.0,-.26),(1.1,-.21),(1.2,-.17),(1.22,-.22),(1.25,-.35),(1.28,-.33),(1.31,-.2),(1.35,-.02),(1.4,.06),(1.5,.08),(1.6,.09),(1.7,.12),(1.75,.15),(1.84,.14)]
R4C3_GRAY = [
 [(0,0),(.04,-.25),(.08,-.6),(.12,-.9),(.16,-1),(.82,-1),(.83,-.28),(1.0,-.22),(1.2,-.15),(1.24,-.5),(1.28,-.78),(1.32,-.6),(1.38,-.3),(1.45,-.05),(1.55,0),(1.62,.05),(1.7,.4),(1.76,.85),(1.8,.85),(1.84,.7)],
 [(0,0),(.06,-.35),(.12,-.75),(.18,-.98),(.24,-1),(.82,-1),(.83,-.3),(1.0,-.23),(1.2,-.17),(1.25,-.45),(1.29,-.72),(1.33,-.55),(1.4,-.2),(1.48,-.02),(1.6,0),(1.7,.2),(1.76,.5),(1.8,.45),(1.84,.4)],
 [(0,0),(.05,-.3),(.1,-.7),(.15,-.95),(.2,-1),(.82,-1),(.83,-.32),(1.0,-.24),(1.2,-.16),(1.26,-.55),(1.3,-.82),(1.34,-.65),(1.41,-.25),(1.5,-.03),(1.6,0),(1.7,.05),(1.78,.25),(1.84,0)],
 [(0,0),(.07,-.4),(.14,-.8),(.2,-.97),(.26,-1),(.82,-1),(.83,-.3),(1.0,-.22),(1.2,-.14),(1.24,-.3),(1.28,-.6),(1.32,-.45),(1.38,-.15),(1.45,0),(1.6,.02),(1.68,.1),(1.74,.35),(1.8,.2),(1.84,.05)],
 [(0,0),(.05,-.2),(.11,-.55),(.17,-.88),(.22,-1),(.82,-1),(.83,-.28),(1.0,-.21),(1.2,-.15),(1.23,-.2),(1.25,0),(1.3,.05),(1.35,0),(1.4,-.03),(1.5,0),(1.65,.05),(1.72,.3),(1.78,.55),(1.84,.6)],
 [(0,0),(.08,-.45),(.15,-.85),(.22,-1),(.82,-1),(.83,-.3),(1.2,-.16),(1.25,-.4),(1.3,-.65),(1.35,-.5),(1.42,-.1),(1.5,0),(1.6,0),(1.7,.1),(1.84,.02)]]

R4C4_MEAN = [(0,0),(.1,-.1),(.2,-.2),(.3,-.31),(.4,-.42),(.5,-.52),(.6,-.6),(.7,-.66),(.8,-.7),(.9,-.73),(1.0,-.75),(1.1,-.76),(1.2,-.77),(1.21,-.42),(1.25,-.3),(1.3,-.24),(1.35,-.2),(1.4,-.17),(1.46,-.12),(1.5,-.1),(1.52,-.13),(1.55,-.08),(1.6,-.05),(1.68,0),(1.75,.03),(1.84,.05)]
R4C4_GRAY = [
 [(0,0),(.03,-.3),(.07,-.7),(.11,-.95),(.15,-1),(1.2,-1),(1.21,-.28),(1.3,-.15),(1.4,-.08),(1.5,0),(1.54,.3),(1.58,.6),(1.62,.75),(1.7,.78),(1.74,.75),(1.8,.82),(1.84,.82)],
 [(0,0),(.04,-.35),(.08,-.75),(.12,-.97),(.17,-1),(1.2,-1),(1.21,-.3),(1.3,-.18),(1.45,-.05),(1.5,.02),(1.55,.2),(1.6,.4),(1.65,.1),(1.72,.05),(1.84,.02)],
 [(0,0),(.05,-.45),(.1,-.85),(.14,-.99),(.2,-1),(1.2,-1),(1.21,-.3),(1.35,-.15),(1.5,-.05),(1.53,-.25),(1.57,-.05),(1.62,.15),(1.7,.1),(1.84,.05)],
 [(0,0),(.06,-.5),(.11,-.9),(.16,-1),(.7,-.98),(.8,-1),(1.2,-1),(1.21,-.32),(1.3,-.2),(1.45,-.05),(1.52,.05),(1.56,.35),(1.6,.5),(1.66,.2),(1.72,.15),(1.84,.1)],
 [(0,0),(.04,-.2),(.09,-.6),(.14,-.93),(.19,-1),(1.2,-1),(1.21,-.27),(1.32,-.12),(1.48,.02),(1.52,.1),(1.56,.05),(1.62,.15),(1.7,.05),(1.84,0)],
 [(0,0),(.05,-.3),(.1,-.75),(.16,-.97),(.22,-1),(1.2,-1),(1.21,-.35),(1.3,-.2),(1.4,-.1),(1.5,-.02),(1.55,-.2),(1.6,-.1),(1.68,0),(1.84,.03)]]

# panel contents, in drawing order
PANELS = [
 [[("red", [R1C1_RED]), ("salmon", [R1C1_SAL]), ("blue", [R1C1_BLUE]), ("cyan", [R1C1_CYAN])],
  [("blue", [R1C2_BLUE]), ("cyan", [R1C2_CYAN]), ("salmon", [R1C2_SAL]), ("red", [R1C2_RED])],
  [("blue", [R1C3_BLUE]), ("cyan", [R1C3_CYAN]), ("salmon", [R1C3_SAL]), ("red", [R1C3_RED])],
  [("blue", [R1C4_BLUE]), ("cyan", [R1C4_CYAN]), ("salmon", [R1C4_SAL]), ("red", [R1C4_RED])]],
 [[("salmon", R2C1_SAL), ("red", R2C1_RED), ("blue", R2C1_BLUE), ("cyan", R2C1_CYAN)],
  [("blue", R2C2_BLUE), ("cyan", R2C2_CYAN), ("salmon", R2C2_SAL), ("red", R2C2_RED)],
  [("blue", R2C3_BLUE), ("cyan", R2C3_CYAN), ("red", R2C3_RED), ("salmon", R2C3_SAL)],
  [("blue", R2C4_BLUE), ("cyan", R2C4_CYAN), ("red", R2C4_RED), ("salmon", R2C4_SAL)]],
 [[("gray", R3C1_GRAY), ("black", [R3C1_MEAN])], [("gray", R3C2_GRAY), ("black", [R3C2_MEAN])],
  [("gray", R3C3_GRAY), ("black", [R3C3_MEAN])], [("gray", R3C4_GRAY), ("black", [R3C4_MEAN])]],
 [[("gray", R4C1_GRAY), ("black", [R4C1_MEAN])], [("gray", R4C2_GRAY), ("black", [R4C2_MEAN])],
  [("gray", R4C3_GRAY), ("black", [R4C3_MEAN])], [("gray", R4C4_GRAY), ("black", [R4C4_MEAN])]],
]

LINE_W = {0: {"default": 2.4}, 1: {"default": 1.0},
          2: {"gray": 1.0, "black": 2.4}, 3: {"gray": 1.0, "black": 2.4}}

W, H = 229, 135
AXIS_COLOR = "#555555"
TICK_PX = 4
LABEL_EXPR = "datum.value < 0 ? '\u2212' + (-datum.value) : '' + datum.value"


def to_df(traces):
    rows = []
    for k, tr in enumerate(traces):
        for i, (t, y) in enumerate(tr):
            rows.append({"t": t, "y": y, "k": k, "i": i})
    return pd.DataFrame(rows)


def make_panel(r, c):
    act = r < 2
    ydom = [0, 1] if act else [-1, 1]
    yvals = Y_TICKS_ACT if act else Y_TICKS_IDX
    xaxis = alt.Axis(values=X_TICKS, labelExpr=LABEL_EXPR, ticks=False, grid=False,
                     domainColor=AXIS_COLOR, labelFlush=False, labelOverlap=False,
                     labelPadding=4, labelFont=FONT, labelFontSize=22, labelColor="black",
                     title="time (s)" if r == 3 else None, titleFont=FONT, titleFontSize=22,
                     titleFontWeight="normal", titleColor="black", titlePadding=3)
    yaxis = alt.Axis(values=yvals, labelExpr=LABEL_EXPR, ticks=False, grid=False,
                     domainColor=AXIS_COLOR, labelFlush=False, labelOverlap=False,
                     labelPadding=6, labelFont=FONT, labelFontSize=22, labelColor="black",
                     title=ROW_TITLES[r] if c == 0 else None, titleFont=FONT, titleFontSize=22,
                     titleFontWeight="normal", titleColor="black", titlePadding=6,
                     titleLineHeight=29)
    xs = alt.Scale(domain=[0, T_END], nice=False, zero=False)
    ys = alt.Scale(domain=ydom, nice=False, zero=False)
    X = alt.X("t:Q", scale=xs, axis=xaxis)
    Y = alt.Y("y:Q", scale=ys, axis=yaxis)

    layers = []
    ev = alt.Chart(pd.DataFrame({"t": EVENTS})).mark_rule(
        color="#333333", strokeWidth=1.1, strokeDash=[6, 4]).encode(x=X)
    layers.append(ev)
    if not act:
        zero = alt.Chart(pd.DataFrame({"y": [0]})).mark_rule(
            color="#333333", strokeWidth=1.1, strokeDash=[6, 4]).encode(y=Y)
        layers.append(zero)
    # inward-pointing ticks (MATLAB style)
    dx = T_END * TICK_PX / W
    dy = (ydom[1] - ydom[0]) * TICK_PX / H
    ytk = pd.DataFrame({"y": yvals, "x0": [0.0] * len(yvals), "x1": [dx] * len(yvals)})
    layers.append(alt.Chart(ytk).mark_rule(color=AXIS_COLOR, strokeWidth=1).encode(
        x=alt.X("x0:Q", scale=xs, axis=xaxis), x2="x1:Q", y=Y))
    xtk = pd.DataFrame({"t": X_TICKS, "y0": [ydom[0]] * len(X_TICKS),
                        "y1": [ydom[0] + dy] * len(X_TICKS)})
    layers.append(alt.Chart(xtk).mark_rule(color=AXIS_COLOR, strokeWidth=1).encode(
        x=X, y=alt.Y("y0:Q", scale=ys, axis=yaxis), y2="y1:Q"))
    for key, traces in PANELS[r][c]:
        wmap = LINE_W[r]
        sw = wmap.get(key, wmap.get("default", 1.0))
        ln = alt.Chart(to_df(traces)).mark_line(
            color=COLORS[key], strokeWidth=sw, strokeJoin="round", strokeCap="butt").encode(
            x=X, y=Y, detail="k:N", order="i:Q")
        layers.append(ln)
    ch = alt.layer(*layers).properties(width=W, height=H)
    if r == 0:
        ch = ch.properties(title=alt.TitleParams(COL_TITLES[c], color="#ff0000", font=FONT,
                                                 fontSize=23, fontWeight="normal", offset=1,
                                                 anchor="middle"))
    return ch


panels = [make_panel(r, c) for r in range(4) for c in range(4)]
chart = alt.concat(*panels, columns=4, spacing=alt.RowColnumber(row=53.4, column=72.7),
                   bounds="flush").configure_view(stroke=None).properties(
    padding={"left": 2, "top": 2, "right": 5, "bottom": 5})

chart.save("out.html", embed_options={"renderer": "svg", "actions": False})
